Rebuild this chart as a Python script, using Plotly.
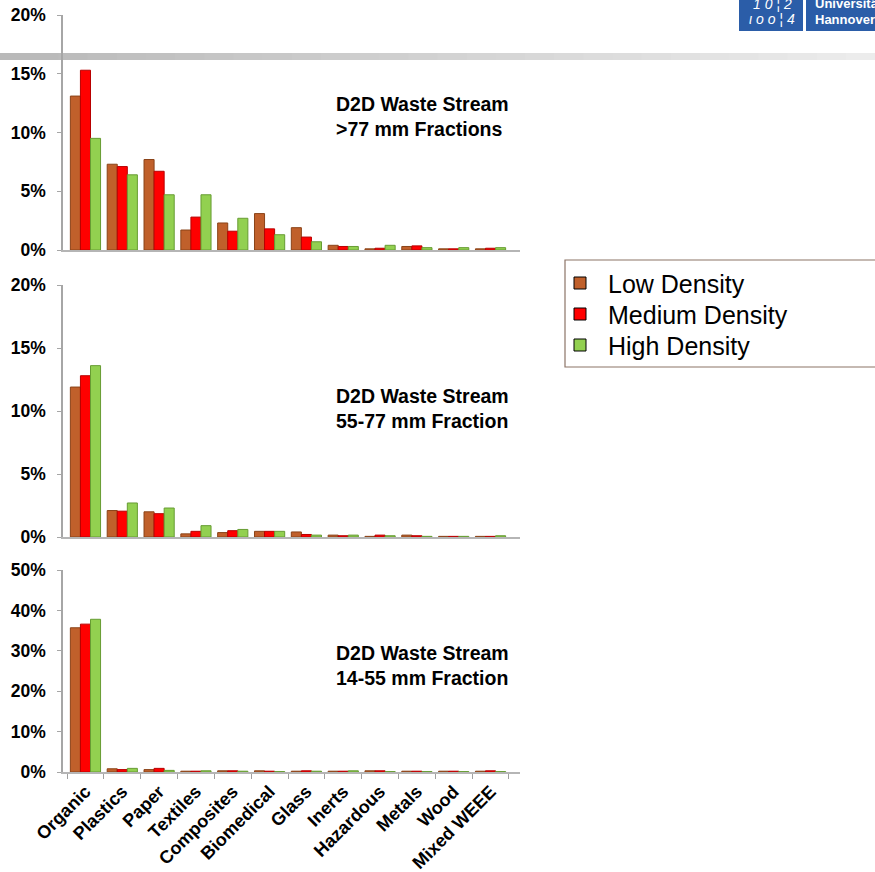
import plotly.graph_objects as go

W, H = 875, 872

categories = ["Organic", "Plastics", "Paper", "Textiles", "Composites", "Biomedical",
              "Glass", "Inerts", "Hazardous", "Metals", "Wood", "Mixed WEEE"]
series_names = ["Low Density", "Medium Density", "High Density"]

# >77 mm fraction (%)
low_77 = [13.1, 7.3, 7.7, 1.7, 2.3, 3.1, 1.9, 0.4, 0.1, 0.3, 0.1, 0.1]
med_77 = [15.3, 7.1, 6.7, 2.8, 1.6, 1.8, 1.1, 0.3, 0.15, 0.35, 0.1, 0.15]
high_77 = [9.5, 6.4, 4.7, 4.7, 2.7, 1.3, 0.7, 0.3, 0.4, 0.2, 0.2, 0.2]

# 55-77 mm fraction (%)
low_55 = [11.9, 2.1, 2.0, 0.25, 0.35, 0.45, 0.4, 0.15, 0.05, 0.15, 0.05, 0.05]
med_55 = [12.8, 2.05, 1.85, 0.45, 0.5, 0.45, 0.2, 0.1, 0.15, 0.1, 0.05, 0.05]
high_55 = [13.6, 2.7, 2.3, 0.9, 0.6, 0.45, 0.15, 0.15, 0.1, 0.05, 0.05, 0.1]

# 14-55 mm fraction (%)
low_14 = [35.7, 0.8, 0.6, 0.2, 0.3, 0.3, 0.2, 0.2, 0.3, 0.2, 0.2, 0.2]
med_14 = [36.6, 0.6, 0.9, 0.2, 0.3, 0.2, 0.3, 0.2, 0.3, 0.2, 0.2, 0.3]
high_14 = [37.8, 0.9, 0.4, 0.3, 0.2, 0.1, 0.2, 0.3, 0.1, 0.1, 0.1, 0.1]

panel_titles = ["D2D Waste Stream<br>>77 mm Fractions",
                "D2D Waste Stream<br>55-77 mm Fraction",
                "D2D Waste Stream<br>14-55 mm Fraction"]
ticks_20 = [0, 5, 10, 15, 20]
ticks_50 = [0, 10, 20, 30, 40, 50]

colors = ["#C0602B", "#FF0000", "#92D050"]
edge = ["#8A4318", "#B80000", "#679C33"]


def px(x):
    return x / W


def py(y):
    return 1 - y / H


panels = [
    (low_77, med_77, high_77),
    (low_55, med_55, high_55),
    (low_14, med_14, high_14),
]

fig = go.Figure()
for p, data in enumerate(panels):
    xa = "x" if p == 0 else f"x{p+1}"
    ya = "y" if p == 0 else f"y{p+1}"
    for s, vals in enumerate(data):
        fig.add_trace(go.Bar(
            x=categories, y=vals, xaxis=xa, yaxis=ya,
            name=series_names[s], showlegend=False,
            marker=dict(color=colors[s], line=dict(color=edge[s], width=1)),
        ))

x_dom = [px(63), px(520)]
x_rng = [-0.61, 11.8]
y_doms = [[py(250), py(15)], [py(537), py(285)], [py(772), py(570)]]
y_rngs = [[0, 20], [0, 20], [0, 50]]
y_ticks = [ticks_20, ticks_20, ticks_50]

axis_font = dict(family="Arial", size=17.5, color="black")

layout = dict(
    width=W, height=H,
    margin=dict(l=0, r=0, t=0, b=0, autoexpand=False),
    paper_bgcolor="white", plot_bgcolor="white",
    barmode="group", bargap=0.18, bargroupgap=0.0,
    font=dict(family="Arial", color="black"),
    showlegend=False,
)

for p in range(3):
    xk = "xaxis" if p == 0 else f"xaxis{p+1}"
    yk = "yaxis" if p == 0 else f"yaxis{p+1}"
    ya = "y" if p == 0 else f"y{p+1}"
    xa = "x" if p == 0 else f"x{p+1}"
    layout[xk] = dict(
        domain=x_dom, range=x_rng, anchor=ya, automargin=False,
        showline=True, linecolor="#b5b5b5", linewidth=2,
        showgrid=False, zeroline=False,
        showticklabels=(p == 2),
        ticks="outside" if p == 2 else "", tickson="boundaries",
        ticklen=5, tickcolor="#a0a0a0",
        tickangle=-45,
        tickvals=categories, ticktext=[f"<b>{c}</b>" for c in categories],
        tickfont=dict(family="Arial", size=18, color="black"),
        fixedrange=True,
    )
    layout[yk] = dict(
        domain=y_doms[p], range=y_rngs[p], anchor=xa, automargin=False,
        tickvals=y_ticks[p], ticktext=[f"<b>{v}%</b>" for v in y_ticks[p]],
        showline=True, linecolor="#a6a6a6", linewidth=1.5,
        showgrid=False, zeroline=False,
        ticks="outside", ticklen=4, tickcolor="#a6a6a6",
        ticklabelstandoff=8,
        tickfont=axis_font,
        fixedrange=True,
    )

fig.update_layout(**layout)

# panel titles
title_y = [117, 408, 665]
for p in range(3):
    fig.add_annotation(
        x=px(334), y=py(title_y[p]), xref="paper", yref="paper",
        xanchor="left", yanchor="middle", align="left",
        text=f"<b>{panel_titles[p]}</b>", showarrow=False,
        font=dict(family="Arial", size=19.5, color="black"),
    )

shapes = []
# decorative grey band across the slide
n = 30
for i in range(n):
    g = int(185 + (236 - 185) * i / (n - 1))
    shapes.append(dict(
        type="rect", xref="paper", yref="paper",
        x0=i / n, x1=(i + 1) / n + 0.002, y0=py(60), y1=py(53),
        fillcolor=f"rgb({g},{g},{g})", line=dict(width=0), layer="below",
    ))
# legend frame
shapes.append(dict(
    type="rect", xref="paper", yref="paper",
    x0=px(565), x1=px(880), y0=py(367), y1=py(260),
    line=dict(color="#8C7467", width=1.2), fillcolor="rgba(0,0,0,0)",
))
# legend symbols and labels
leg_y = [283, 314, 345]
for s in range(3):
    shapes.append(dict(
        type="rect", xref="paper", yref="paper",
        x0=px(574), x1=px(586), y0=py(leg_y[s] + 6), y1=py(leg_y[s] - 6),
        fillcolor=colors[s], line=dict(color="black", width=1),
    ))
    fig.add_annotation(
        x=px(606), y=py(leg_y[s] + 1), xref="paper", yref="paper",
        xanchor="left", yanchor="middle", showarrow=False,
        text=series_names[s], font=dict(family="Arial", size=25, color="black"),
    )
# logo
shapes.append(dict(
    type="rect", xref="paper", yref="paper",
    x0=px(739), x1=px(880), y0=py(31), y1=py(-5),
    fillcolor="#2B5DA8", line=dict(width=0),
))
shapes.append(dict(
    type="line", xref="paper", yref="paper",
    x0=px(804.5), x1=px(804.5), y0=py(31), y1=py(-5),
    line=dict(color="white", width=3),
))
fig.update_layout(shapes=shapes)

logo_font = dict(family="Arial", size=13, color="white")
fig.add_annotation(x=px(772), y=py(4), xref="paper", yref="paper", showarrow=False,
                   text="<i>1 0 ¦ 2</i>", font=dict(family="Arial", size=14, color="white"),
                   xanchor="center", yanchor="middle")
fig.add_annotation(x=px(772), y=py(19), xref="paper", yref="paper", showarrow=False,
                   text="<i>ι o o ¦ 4</i>", font=dict(family="Arial", size=14, color="white"),
                   xanchor="center", yanchor="middle")
fig.add_annotation(x=px(813), y=py(4), xref="paper", yref="paper", showarrow=False,
                   text="<b>Universität</b>", font=logo_font, xanchor="left", yanchor="middle")
fig.add_annotation(x=px(813), y=py(19), xref="paper", yref="paper", showarrow=False,
                   text="<b>Hannover</b>", font=logo_font, xanchor="left", yanchor="middle")

fig.write_html("out.html")
